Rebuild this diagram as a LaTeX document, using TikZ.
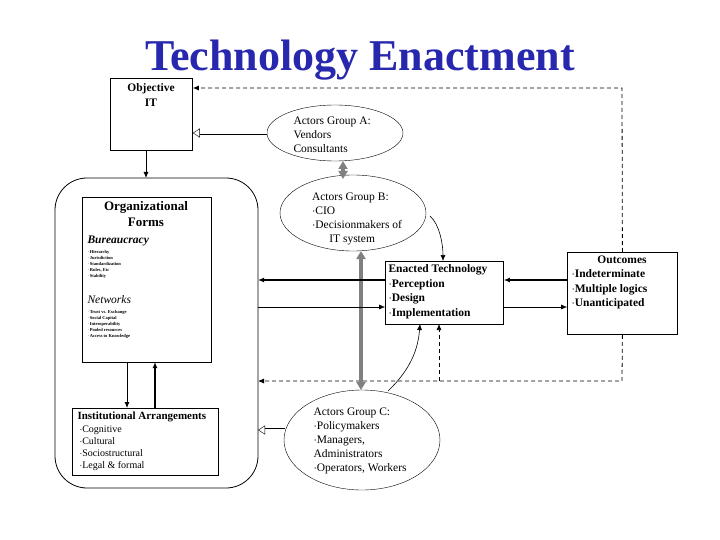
\documentclass[tikz,border=0pt]{standalone}
\usepackage{fontspec}
\setmainfont{Liberation Serif}
\usetikzlibrary{arrows.meta,shapes.geometric}
\begin{document}
\begin{tikzpicture}[x=1pt,y=-1pt,
  box/.style={draw,thick,inner sep=3pt},
  ell/.style={draw,ellipse,inner sep=0pt},
  ar/.style={-{Latex[length=6pt,width=5pt]}},
  dsh/.style={dash pattern=on 4pt off 3pt,thick},
  dbl/.style={double distance=3pt,thin,-{Triangle[open,length=7pt,width=9pt]}},
  txt/.style={font=\fontsize{11.5}{14}\selectfont,align=left},
  btxt/.style={font=\bfseries\fontsize{11.5}{14.5}\selectfont,align=left},
  gray/.style={line width=4pt,draw=gray,{Triangle[length=8pt,width=9pt]}-{Triangle[length=8pt,width=9pt]}}]
\useasboundingbox (0,0) rectangle (720,540);
\definecolor{ttl}{RGB}{40,40,175}
\node[text=ttl,font=\bfseries\fontsize{44}{46}\selectfont] (title) at (360,60) {Technology Enactment};
\node[box,minimum width=82pt,minimum height=72pt,anchor=north west,fill=white] (obj) at (110,78) {};
\node[btxt,align=center,anchor=north] at (151,80) {Objective\\IT};
\node[ell,minimum width=136pt,minimum height=56pt] (A) at (335,133) {};
\node[txt,anchor=west] at (290,135) {Actors Group A:\\Vendors\\Consultants};
\node[ell,minimum width=146pt,minimum height=76pt] (B) at (353,213) {};
\node[txt] at (357,219) {Actors Group B:\\$\cdot$CIO\\$\cdot$Decisionmakers of\\\hspace*{1.5em}IT system};
\node[ell,minimum width=156pt,minimum height=100pt] (C) at (362,440) {};
\node[txt,anchor=west] at (310,441) {Actors Group C:\\$\cdot$Policymakers\\$\cdot$Managers,\\Administrators\\$\cdot$Operators, Workers};
\draw[thick,rounded corners=32pt] (55,178) rectangle (258,488);
\node[box,minimum width=129pt,minimum height=165pt,anchor=north west] (org) at (82,197) {};
\node[font=\bfseries\fontsize{13}{16}\selectfont,align=center,anchor=north] at (146,198) {Organizational\\Forms};
\node[font=\bfseries\itshape\fontsize{11.5}{13}\selectfont,anchor=north west] at (84,232) {Bureaucracy};
\node[font=\fontsize{4.5}{6}\selectfont\bfseries,align=left,anchor=north west] at (84,247) {$\cdot$Hierarchy\\$\cdot$Jurisdiction\\$\cdot$Standardization\\$\cdot$Rules, Etc\\$\cdot$Stability};
\node[font=\itshape\fontsize{11.5}{13}\selectfont,anchor=north west] at (84,292) {Networks};
\node[font=\fontsize{4.5}{6}\selectfont\bfseries,align=left,anchor=north west] at (84,307) {$\cdot$Trust vs. Exchange\\$\cdot$Social Capital\\$\cdot$Interoperability\\$\cdot$Pooled resources\\$\cdot$Access to Knowledge};
\node[box,minimum width=146pt,minimum height=67pt,anchor=north west] (inst) at (72,408) {};
\node[font=\bfseries\fontsize{11}{13}\selectfont,anchor=north west] at (74,408) {Institutional Arrangements};
\node[font=\fontsize{10}{12.2}\selectfont,align=left,anchor=north west] at (76,422) {$\cdot$Cognitive\\$\cdot$Cultural\\$\cdot$Sociostructural\\$\cdot$Legal \& formal};
\node[box,minimum width=118pt,minimum height=63pt,anchor=north west] (enact) at (385,261) {};
\node[btxt,anchor=north west] at (385,261) {Enacted Technology\\$\cdot$Perception\\$\cdot$Design\\$\cdot$Implementation};
\node[box,minimum width=110pt,minimum height=82pt,anchor=north west] (out) at (567,252) {};
\node[btxt,align=center,anchor=north] at (622,252) {Outcomes};
\node[btxt,anchor=north west] at (568,266) {$\cdot$Indeterminate\\$\cdot$Multiple logics\\$\cdot$Unanticipated};
% connectors
\draw[dsh,ar] (out.north) -- (622,88) -- (obj.east |- 0,88);
\draw[dsh,ar] (out.south) -- (622,381) -- (258,381);
\draw[semithick,dash pattern=on 4pt off 3pt,ar] (439,381) -- (439,324);
\draw[dbl] (A.west) -- (obj.east |- A.west);
\draw[gray] (343,161) -- (343,179);
\draw[gray] (361,251) -- (361,390);
\draw[ar,thick] (146,150) -- (146,178);
\draw[ar,line width=1.4pt] (enact.west |- 0,280) -- (258,280);
\draw[ar] (258,307) -- (enact.west |- 0,307);
\draw[ar,line width=1.4pt] (out.west |- 0,280) -- (enact.east |- 0,280);
\draw[ar] (enact.east |- 0,307) -- (out.west |- 0,307);
\draw[ar,semithick] (430,216) .. controls (440,225) and (443,245) .. (443,261);
\draw[ar,semithick] (388,391) .. controls (410,370) and (418,350) .. (420,324);
\draw[ar,thick] (127,362) -- (127,408);
\draw[ar,line width=1.2pt] (155,408) -- (155,362);
\draw[dbl] (C.west |- 0,430) ++(1,0) -- (258,430);
\end{tikzpicture}
\end{document}
